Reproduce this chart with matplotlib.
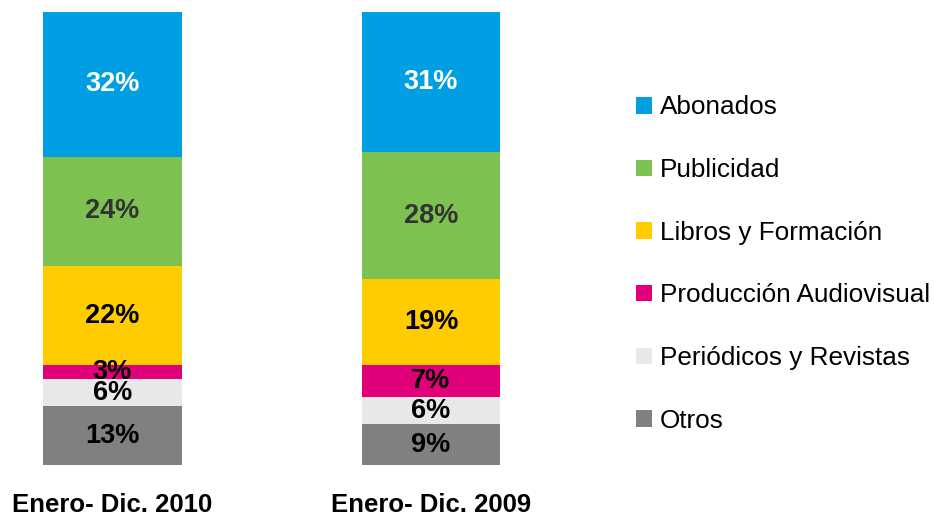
import matplotlib
matplotlib.use("Agg")
import matplotlib.pyplot as plt
import numpy as np

plt.rcParams['font.family'] = ['Liberation Sans', 'DejaVu Sans']

categories = ["Enero- Dic. 2010", "Enero- Dic. 2009"]
series = ["Otros", "Periódicos y Revistas", "Producción Audiovisual",
          "Libros y Formación", "Publicidad", "Abonados"]
otros = [13, 9]
periodicos = [6, 6]
produccion = [3, 7]
libros = [22, 19]
publicidad = [24, 28]
abonados = [32, 31]
values = [otros, periodicos, produccion, libros, publicidad, abonados]
colors = ["#808080", "#E8E8E8", "#E2007A", "#FFCC00", "#7DC250", "#009FE3"]
label_colors = ["black", "black", "black", "black", "#333333", "white"]

W, H = 934, 515
fig = plt.figure(figsize=(W / 100, H / 100), dpi=100)
ax = fig.add_axes([0, 50 / H, 560 / W, 453 / H])

x = np.arange(len(categories))
bottom = np.zeros(len(categories))
handles = []
for name, vals, c, lc in zip(series, values, colors, label_colors):
    vals = np.array(vals, dtype=float)
    b = ax.bar(x, vals, width=0.436, bottom=bottom, color=c, label=name)
    handles.append(b)
    for xi, v, bo in zip(x, vals, bottom):
        ax.text(xi, bo + v / 2, f"{int(v)}%", ha='center', va='center',
                fontsize=19.5, fontweight='bold', color=lc)
    bottom += vals

ax.set_xlim(-0.353, 1.405)
ax.set_ylim(0, 100)
ax.set_xticks(x)
ax.set_xticklabels(categories, fontsize=18.5, fontweight='bold')
ax.tick_params(axis='x', length=0, pad=20)
ax.set_yticks([])
for s in ax.spines.values():
    s.set_visible(False)

fig.legend(handles[::-1], series[::-1], loc='upper left',
           bbox_to_anchor=(626 / W, 1 - 85 / H), frameon=False,
           fontsize=18.8, labelspacing=1.48, handlelength=0.6,
           handleheight=0.6, handletextpad=0.3, borderaxespad=0)

fig.savefig("out.png", dpi=100)
